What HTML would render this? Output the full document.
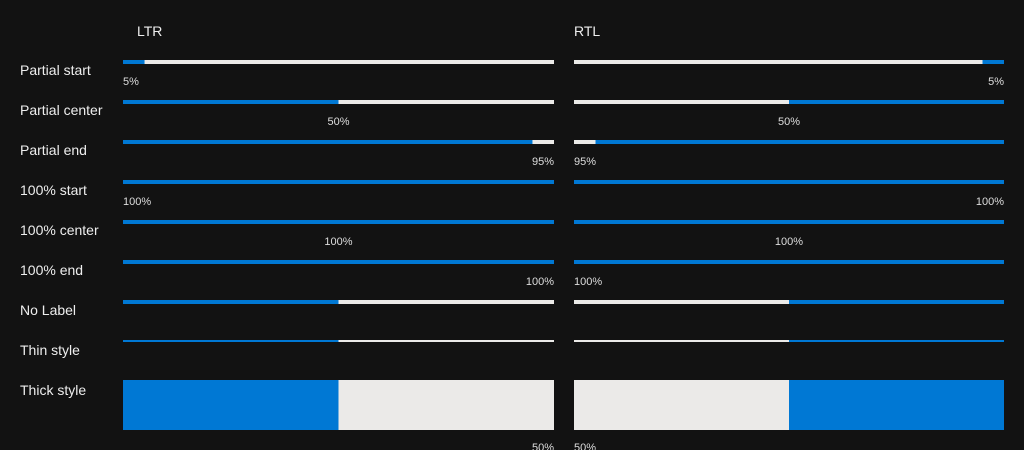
<!DOCTYPE html>
<html><head><meta charset="utf-8"><style>
html,body{margin:0;padding:0;background:#121212;width:1024px;height:450px;overflow:hidden;font-family:"Liberation Sans",sans-serif}
svg{display:block}
</style></head><body>
<svg id="c" width="1024" height="450">
<text x="137" y="36" fill="#eee" font-size="14">LTR</text>
<text x="574" y="36" fill="#eee" font-size="14">RTL</text>
</svg>
<script>
const rowLabels=["Partial start","Partial center","Partial end","100% start","100% center","100% end","No Label","Thin style","Thick style"];
const rowValues=[5,50,95,100,100,100,50,50,50];
const labelAligns=["start","center","end","start","center","end","none","none","end"];
const styles=["normal","normal","normal","normal","normal","normal","normal","thin","thick"];
const svg=document.getElementById('c');
const NS='http://www.w3.org/2000/svg';
function mk(t,a){const e=document.createElementNS(NS,t);for(const k in a)e.setAttribute(k,a[k]);svg.appendChild(e);return e;}
const cols=[{x:123,w:431,rtl:false},{x:574,w:430,rtl:true}];
rowLabels.forEach((lab,i)=>{
  const top=60+i*40;
  const t=mk('text',{x:20,y:top+15,fill:'#eee','font-size':14});
  t.textContent=lab;
  
  
  const h=styles[i]==='thin'?2:styles[i]==='thick'?50:4;
  const by=styles[i]==='thick'?380:top;
  cols.forEach(c=>{
    const fw=c.w*rowValues[i]/100;
    const bg=mk('rect',{x:c.x,y:by,width:c.w,height:h,fill:'#ebeae8'});
    
    
    const fx=c.rtl?c.x+c.w-fw:c.x;
    const f=mk('rect',{x:fx,y:by,width:fw,height:h,fill:'#0078d4'});
    
    
    const al=labelAligns[i];
    if(al!=='none'){
      let tx,anchor;
      const ly=by+h+21;
      if(al==='center'){tx=c.x+c.w/2;anchor='middle';}
      else if((al==='start')!==c.rtl){tx=c.x;anchor='start';}
      else{tx=c.x+c.w;anchor='end';}
      const vl=mk('text',{x:tx,y:ly,fill:'#ddd','font-size':11,'text-anchor':anchor});
      vl.textContent=rowValues[i]+'%';
      
      
    }
  });
});
</script>
</body></html>
